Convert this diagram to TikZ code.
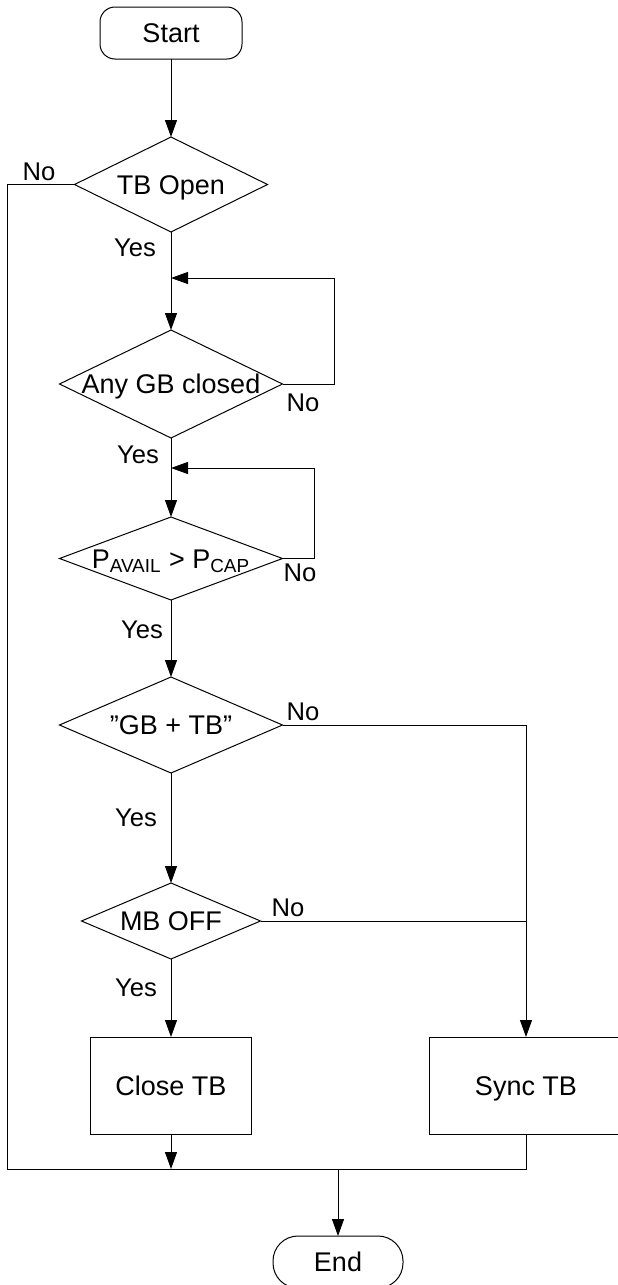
\documentclass[tikz,border=0pt]{standalone}
\usepackage{fontspec}
\setmainfont{Liberation Sans}
\usetikzlibrary{arrows.meta,shapes.geometric}

\begin{document}
\begin{tikzpicture}[x=0.5pt,y=-0.5pt,line width=0.5pt,font=\fontsize{13.5}{15}\selectfont,
  term/.style={draw,rounded corners=#1,inner sep=0pt,outer sep=0pt,minimum height=26pt,text height=9.7pt,text depth=0pt},
  dec/.style={draw,diamond,inner sep=0pt,outer sep=0pt,text height=9.7pt,text depth=0pt},
  box/.style={draw,rectangle,inner sep=0pt,outer sep=0pt,minimum height=48.5pt,text height=9.7pt,text depth=0pt},
  lbl/.style={font=\fontsize{12.8}{14}\selectfont},
  arr/.style={-{Triangle[length=8.5pt,width=6pt]}}]
  \useasboundingbox (0,0) rectangle (617,1285);
  \node[term=7.5pt,minimum width=71pt] (start) at (171,33) {Start};
  \node[dec,minimum width=96.5pt,minimum height=47.5pt] (tbopen) at (171,184.5) {\makebox[0pt]{TB Open}};
  \node[dec,minimum width=111.5pt,minimum height=54pt] (anygb) at (171,384) {\makebox[0pt]{Any GB closed}};
  \node[dec,minimum width=111.5pt,minimum height=41.5pt] (pavail) at (171,558.5) {\makebox[0pt]{P\textsubscript{AVAIL} > P\textsubscript{CAP}}};
  \node[dec,minimum width=111.5pt,minimum height=48pt] (gbtb) at (171,725) {\makebox[0pt]{”GB + TB”}};
  \node[dec,minimum width=89.5pt,minimum height=38pt] (mboff) at (171,921) {\makebox[0pt]{MB OFF}};
  \node[box,minimum width=80.5pt] (closetb) at (171,1085.5) {Close TB};
  \node[box,minimum width=97pt] (synctb) at (526,1085.5) {Sync TB};
  \node[term=12.5pt,minimum width=65pt] (end) at (338,1262) {End};
  \coordinate (loopa) at (334,278);
  \coordinate (joina) at (171,278);
  \coordinate (loopb) at (314,468);
  \coordinate (joinb) at (171,468);
  \coordinate (mergel) at (7,1169);
  \coordinate (merger) at (526,1169);
  \draw[arr] (start) -- (tbopen);
  \draw[arr] (tbopen) -- (anygb);
  \draw[arr] (anygb.east) -| (loopa) -- (joina);
  \draw[arr] (anygb) -- (pavail);
  \draw[arr] (pavail.east) -| (loopb) -- (joinb);
  \draw[arr] (pavail) -- (gbtb);
  \draw[arr] (gbtb) -- (mboff);
  \draw[arr] (mboff) -- (closetb);
  \draw[arr] (gbtb.east) -| (synctb.north);
  \draw (mboff.east) -- (synctb.north |- mboff.east);
  \draw (tbopen.west) -| (mergel) -- (merger) -- (synctb.south);
  \draw[arr] (closetb.south) -- (closetb.south |- mergel);
  \draw[arr] (end.north |- mergel) -- (end.north);
  \node[lbl] (noa) at (39,172) {No};
  \node[lbl] (yesa) at (135,248) {Yes};
  \node[lbl] (nob) at (303,403) {No};
  \node[lbl] (yesb) at (138,455) {Yes};
  \node[lbl] (noc) at (300,573) {No};
  \node[lbl] (yesc) at (142,630) {Yes};
  \node[lbl] (nod) at (303,712) {No};
  \node[lbl] (yesd) at (136,818) {Yes};
  \node[lbl] (noe) at (288,908) {No};
  \node[lbl] (yese) at (136,988) {Yes};
\end{tikzpicture}
\end{document}
